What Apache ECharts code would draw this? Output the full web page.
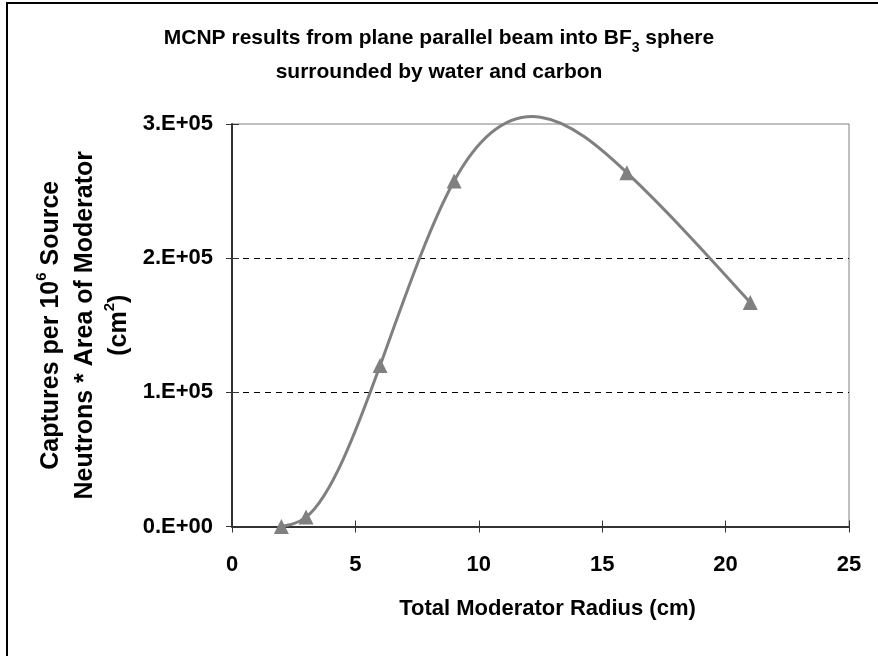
<!DOCTYPE html>
<html>
<head>
<meta charset="utf-8">
<script src="https://cdn.jsdelivr.net/npm/echarts@6/dist/echarts.min.js"></script>
<style>
  html, body { margin: 0; padding: 0; background: #ffffff; }
  #chart { width: 878px; height: 656px; }
</style>
</head>
<body>
<div id="chart"></div>
<script>
// Total moderator radius (cm) and captures per 1e6 source neutrons * moderator area (cm^2)
const radius = [2, 3, 6, 9, 16, 21];
const captures = [0, 7000, 120000, 257500, 263700, 166900];

// Axis ticks and labels
const xTicks = [0, 5, 10, 15, 20, 25];
const yTicks = [0, 100000, 200000, 300000];
const yTickLabels = ['0.E+00', '1.E+05', '2.E+05', '3.E+05'];

const FONT = '"Liberation Sans", Arial, Helvetica, sans-serif';
const LINE_COLOR = '#808080';

const chart = echarts.init(document.getElementById('chart'), null, { renderer: 'canvas' });

const points = radius.map((r, i) => [r, captures[i]]);

// Knot slopes of a natural cubic spline through the points (dy/dx)
function splineSlopes(xs, ys) {
  const n = xs.length;
  const h = [], d = [];
  for (let i = 0; i < n - 1; i++) {
    h.push(xs[i + 1] - xs[i]);
    d.push((ys[i + 1] - ys[i]) / h[i]);
  }
  // second derivatives M (natural ends: M0 = Mn-1 = 0), Thomas algorithm
  const M = new Array(n).fill(0);
  const m = n - 2;
  const a = [], b = [], c = [], r = [];
  for (let k = 0; k < m; k++) {
    const i = k + 1;
    a.push(h[i - 1]);
    b.push(2 * (h[i - 1] + h[i]));
    c.push(h[i]);
    r.push(6 * (d[i] - d[i - 1]));
  }
  for (let k = 1; k < m; k++) {
    const w = a[k] / b[k - 1];
    b[k] -= w * c[k - 1];
    r[k] -= w * r[k - 1];
  }
  for (let k = m - 1; k >= 0; k--) {
    M[k + 1] = (r[k] - (k < m - 1 ? c[k] * M[k + 2] : 0)) / b[k];
  }
  const s = [];
  for (let i = 0; i < n - 1; i++) s.push(d[i] - h[i] * (2 * M[i] + M[i + 1]) / 6);
  s.push(d[n - 2] + h[n - 2] * (M[n - 2] + 2 * M[n - 1]) / 6);
  return s;
}
const slopes = splineSlopes(radius, captures);

// Smoothed curve: each spline segment drawn as one cubic Bezier in axis coordinates
function renderSegment(params, api) {
  const i = params.dataIndex;
  if (i >= points.length - 1) return null;
  const x0 = radius[i], x1 = radius[i + 1];
  const y0 = captures[i], y1 = captures[i + 1];
  const third = (x1 - x0) / 3;
  const p1 = api.coord([x0, y0]);
  const p2 = api.coord([x1, y1]);
  const c1 = api.coord([x0 + third, y0 + slopes[i] * third]);
  const c2 = api.coord([x1 - third, y1 - slopes[i + 1] * third]);
  return {
    type: 'bezierCurve',
    shape: {
      x1: p1[0], y1: p1[1], x2: p2[0], y2: p2[1],
      cpx1: c1[0], cpy1: c1[1], cpx2: c2[0], cpy2: c2[1]
    },
    style: { stroke: LINE_COLOR, lineWidth: 3, fill: null }
  };
}

const baseAxis = {
  type: 'value',
  axisLine: { show: true, onZero: false, lineStyle: { color: '#333333', width: 2 } },
  axisTick: { show: true, inside: false, length: 6, lineStyle: { color: '#333333', width: 1 } },
  splitLine: { show: false }
};

const option = {
  animation: false,
  backgroundColor: '#ffffff',
  title: {
    left: 'center',
    top: 21,
    padding: 0,
    text: '{t|MCNP results from plane parallel beam into BF}{sub|3}{t| sphere}\n{t|surrounded by water and carbon}',
    textStyle: {
      rich: {
        t: { fontFamily: FONT, fontSize: 21, fontWeight: 'bold', color: '#000', lineHeight: 34, verticalAlign: 'middle' },
        sub: { fontFamily: FONT, fontSize: 14, fontWeight: 'bold', color: '#000', lineHeight: 24, verticalAlign: 'bottom' }
      }
    }
  },
  grid: {
    left: 232, top: 124, right: 29, bottom: 129.5,
    containLabel: false,
    outerBoundsMode: 'none',
    show: true, borderColor: LINE_COLOR, borderWidth: 1, backgroundColor: 'transparent'
  },
  graphic: [{
    type: 'rect',
    shape: { x: 7, y: 3, width: 900, height: 700 },
    style: { fill: null, stroke: '#000000', lineWidth: 2 },
    silent: true, z: -10
  }],
  xAxis: [
    Object.assign({}, baseAxis, {
      min: xTicks[0], max: xTicks[xTicks.length - 1], interval: 5,
      position: 'bottom',
      axisLabel: { margin: 27, fontFamily: FONT, fontSize: 22, fontWeight: 'bold', color: '#000' },
      name: 'Total Moderator Radius (cm)',
      nameLocation: 'middle',
      nameGap: 71,
      nameTextStyle: { fontFamily: FONT, fontSize: 22, fontWeight: 'bold', color: '#000', padding: [0, 0, 0, 14] }
    }),
    Object.assign({}, baseAxis, {
      min: xTicks[0], max: xTicks[xTicks.length - 1], interval: 5,
      position: 'bottom',
      axisLine: { show: false },
      axisTick: { show: true, inside: true, length: 6, lineStyle: { color: '#333333', width: 1 } },
      axisLabel: { show: false }
    })
  ],
  yAxis: [
    Object.assign({}, baseAxis, {
      min: yTicks[0], max: yTicks[yTicks.length - 1], interval: 100000,
      position: 'left',
      axisLabel: {
        margin: 19, fontFamily: FONT, fontSize: 22, fontWeight: 'bold', color: '#000',
        formatter: (v) => yTickLabels[yTicks.indexOf(v)]
      },
      splitLine: {
        show: true, showMinLine: false, showMaxLine: false,
        lineStyle: { color: '#000000', width: 1, type: [6, 5] }
      },
      name: '{b|Captures per 10}{sup|6}{b| Source}\n{b|Neutrons * Area of Moderator}\n{b|(cm}{sup|2}{b|)}',
      nameLocation: 'middle',
      nameRotate: 90,
      nameGap: 88,
      nameTextStyle: {
        align: 'center',
        rich: {
          b: { fontFamily: FONT, fontSize: 25, fontWeight: 'bold', color: '#000', lineHeight: 34, verticalAlign: 'middle' },
          sup: { fontFamily: FONT, fontSize: 15, fontWeight: 'bold', color: '#000', lineHeight: 26, verticalAlign: 'top' }
        }
      }
    }),
    Object.assign({}, baseAxis, {
      min: yTicks[0], max: yTicks[yTicks.length - 1], interval: 100000,
      position: 'left',
      axisLine: { show: false },
      axisTick: { show: true, inside: true, length: 7, lineStyle: { color: '#333333', width: 1 } },
      axisLabel: { show: false },
      splitLine: { show: false }
    })
  ],
  series: [
    {
      type: 'custom',
      name: 'curve',
      xAxisIndex: 0, yAxisIndex: 0,
      clip: false,
      renderItem: renderSegment,
      data: points,
      z: 3,
      silent: true
    },
    {
      type: 'scatter',
      name: 'points',
      xAxisIndex: 0, yAxisIndex: 0,
      symbol: 'triangle',
      symbolSize: [15, 15],
      itemStyle: { color: LINE_COLOR, opacity: 1 },
      data: points,
      z: 4,
      silent: true
    }
  ]
};

chart.setOption(option);
</script>
</body>
</html>
